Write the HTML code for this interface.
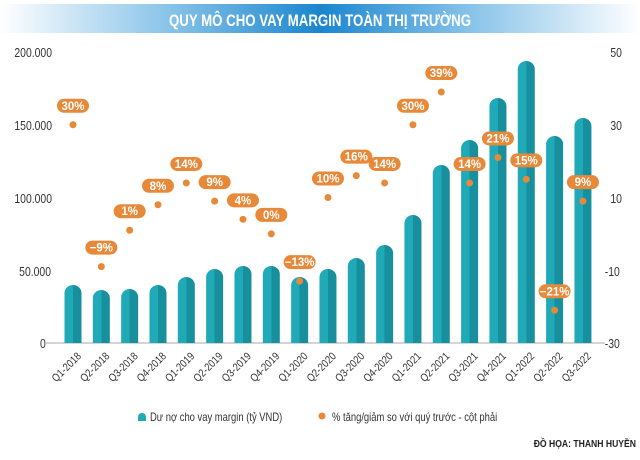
<!DOCTYPE html>
<html><head><meta charset="utf-8"><style>
body{margin:0;width:640px;height:455px;background:#fff;overflow:hidden;font-family:"Liberation Sans",sans-serif}
</style></head><body>
<svg width="640" height="455" xmlns="http://www.w3.org/2000/svg" font-family="Liberation Sans, sans-serif">
<defs>
<linearGradient id="tb" x1="0" x2="1"><stop offset="0" stop-color="#fff"/><stop offset="0.25" stop-color="#8fc7ea"/><stop offset="0.5" stop-color="#1a86cf"/><stop offset="0.75" stop-color="#8fc7ea"/><stop offset="1" stop-color="#fff"/></linearGradient>
<linearGradient id="bar" x1="0" x2="1"><stop offset="0" stop-color="#20a9b6"/><stop offset="0.5" stop-color="#20a9b6"/><stop offset="0.5" stop-color="#178f9c"/><stop offset="1" stop-color="#178f9c"/></linearGradient>
</defs>
<rect x="0" y="4" width="640" height="29" fill="url(#tb)"/>
<text x="320" y="26" text-anchor="middle" fill="#fff" font-weight="bold" font-size="17" transform="translate(320,0) scale(0.78,1) translate(-320,0)">QUY MÔ CHO VAY MARGIN TOÀN THỊ TRƯỜNG</text>
<g font-size="13" fill="#333" transform="scale(0.8,1)">
<text x="18" y="57">200.000</text><text x="18" y="130">150.000</text><text x="18" y="203">100.000</text><text x="24" y="276">50.000</text><text x="50" y="348">0</text>
<text x="763" y="57">50</text><text x="763" y="130">30</text><text x="763" y="203">10</text><text x="756" y="276">-10</text><text x="756" y="348">-30</text>
</g>
<line x1="45" y1="343" x2="605" y2="343" stroke="#bbb" stroke-width="1.2"/>
<g id="bars" fill="url(#bar)"></g>
<g id="pts"></g>
<g id="xl" font-size="11" fill="#333"></g>
<path d="M138 417 a4 4 0 0 1 8 0 v4 h-8z" fill="#20a9b6"/>
<text x="150" y="421" font-size="11.5" fill="#333" transform="translate(150,0) scale(0.82,1) translate(-150,0)">Dư nợ cho vay margin (tỷ VND)</text>
<circle cx="322" cy="416" r="3.5" fill="#e8893a"/>
<text x="332" y="421" font-size="11.5" fill="#333" transform="translate(332,0) scale(0.82,1) translate(-332,0)">% tăng/giảm so với quý trước - cột phải</text>
<text x="636" y="447" text-anchor="end" font-size="10.5" font-weight="bold" fill="#222" transform="translate(636,0) scale(0.82,1) translate(-636,0)">ĐỒ HỌA: THANH HUYỀN</text>
</svg>
<script>
var tops=[285,290,289,285,277,269,266,266,277,269,258,245,215,165,140,98,61,136,118];
var pc=[30,-9,1,8,14,9,4,0,-13,10,16,14,30,39,14,21,15,-21,9];
var lab=["Q1-2018","Q2-2018","Q3-2018","Q4-2018","Q1-2019","Q2-2019","Q3-2019","Q4-2019","Q1-2020","Q2-2020","Q3-2020","Q4-2020","Q1-2021","Q2-2021","Q3-2021","Q4-2021","Q1-2022","Q2-2022","Q3-2022"];
var ns="http://www.w3.org/2000/svg",b="",p="",x="";
for(var i=0;i<19;i++){var cx=73+i*28.33,t=tops[i],w=17;
b+='<path d="M'+(cx-w/2)+' 343 V'+(t+8)+' a'+(w/2)+' 8 0 0 1 '+w+' 0 V343z"/>';
var py=343-(pc[i]+30)*3.6375;
p+='<circle cx="'+cx+'" cy="'+py+'" r="3.5" fill="#e8893a"/>';
var s=(pc[i]<0?'−':'')+Math.abs(pc[i])+'%';
p+='<rect x="'+(cx-16)+'" y="'+(py-26)+'" width="32" height="14" rx="7" fill="#e8893a"/><text x="'+cx+'" y="'+(py-15)+'" text-anchor="middle" font-size="11.5" font-weight="bold" fill="#fff">'+s+'</text>';
x+='<text transform="translate('+(cx+6)+',354) rotate(-45) scale(0.85,1)" text-anchor="end" y="4">'+lab[i]+'</text>';}
document.getElementById('bars').innerHTML=b;document.getElementById('pts').innerHTML=p;document.getElementById('xl').innerHTML=x;
</script>
</body></html>
